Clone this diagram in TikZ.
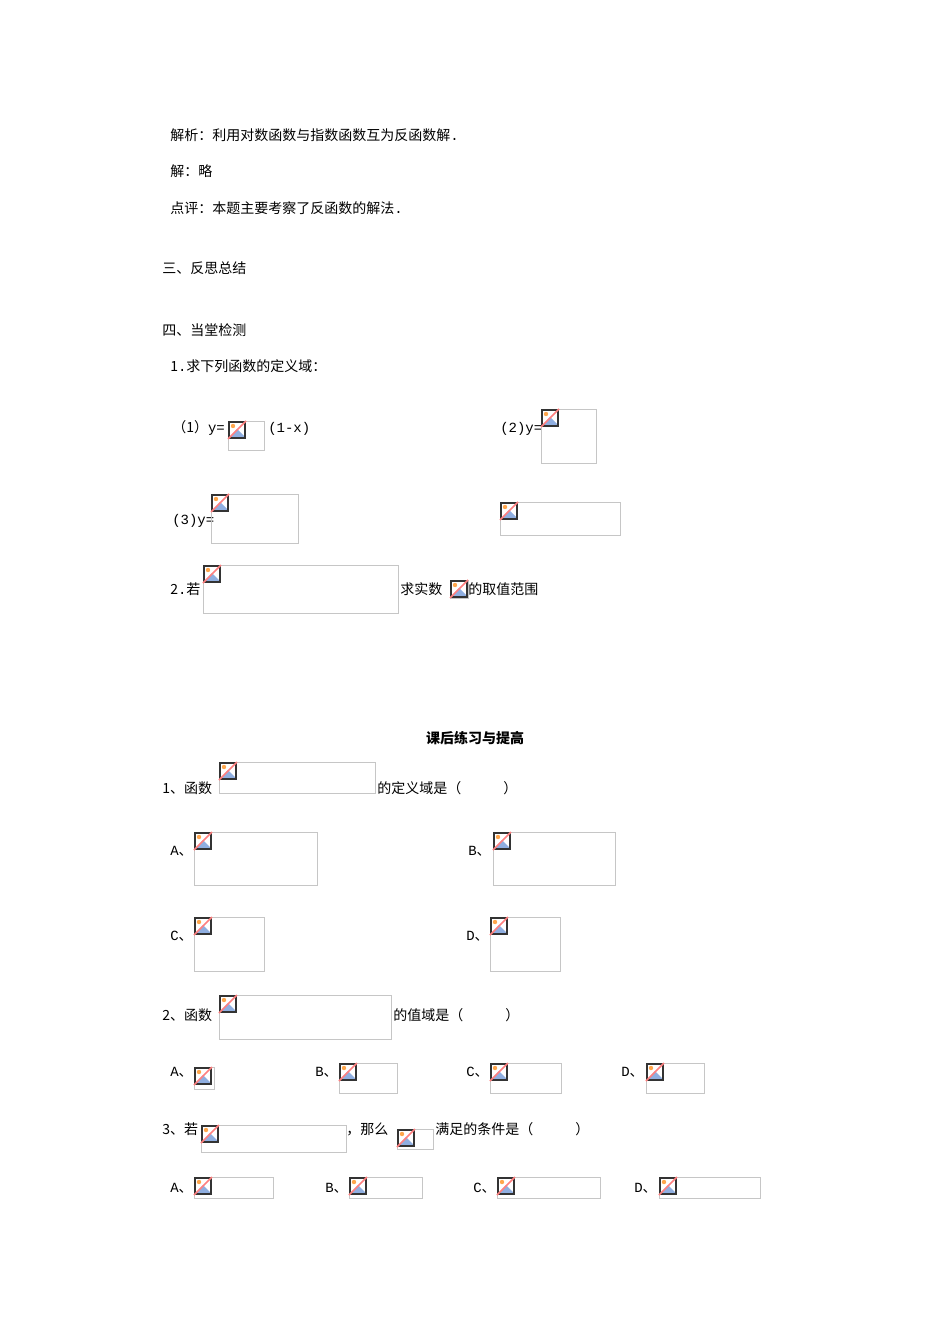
\documentclass[tikz,border=0pt]{standalone}
\usepackage{fontspec}
\setmainfont{Noto Sans CJK SC}
\newfontfamily\lat{Liberation Mono}
\tikzset{txt/.style={anchor=base west,inner sep=0pt,font=\fontsize{10.5pt}{12pt}\selectfont}}
\newcommand{\opt}[1]{{\lat #1}、}
\newcommand{\imgbox}[4]{% x y w h
  \draw[gray!45,line width=0.6pt] (#1,#2) rectangle ++(#3,#4);
  \begin{scope}[shift={(#1,#2)}]
    \fill[white] (0,0) rectangle (18,18);
    \fill[cyan!50!blue!45] (2,16) -- (9,8) -- (16,15) -- (16,16) -- cycle;
    \fill[orange!70] (5,5) circle (2.2);
    \draw[black!80,line width=0.9pt] (1,1) rectangle (17,17);
    \draw[red!50,line width=1.2pt] (0,18) -- (18,0);
  \end{scope}}
\begin{document}
\begin{tikzpicture}[x=0.75pt,y=-0.75pt]
\useasboundingbox[fill=white] (0,0) rectangle (950,1344);
\node[txt] (t1) at (170,141) {解析：利用对数函数与指数函数互为反函数解{\lat.}};
\node[txt] (t2) at (170,177) {解：略};
\node[txt] (t3) at (170,214) {点评：本题主要考察了反函数的解法{\lat.}};
\node[txt] (t4) at (162,274) {三、反思总结};
\node[txt] (t5) at (162,335) {四、当堂检测};
\node[txt] (t6) at (170,371) {1{\lat.}求下列函数的定义域：};
\node[txt] (a1) at (172,432) {（1）{\lat y=}};
\imgbox{228}{421}{36}{29}
\node[txt] (a2) at (268,432) {\lat(1-x)};
\node[txt] (a3) at (500,432) {\lat(2)y=};
\imgbox{541}{409}{55}{54}
\node[txt] (a4) at (172,524) {\lat(3)y=};
\imgbox{211}{494}{87}{49}
\imgbox{500}{502}{120}{33}
\node[txt] (b1) at (170,594) {2{\lat.}若};
\imgbox{203}{565}{195}{48}
\node[txt] (b2) at (400,594) {求实数};
\imgbox{450}{580}{18}{18}
\node[txt] (b3) at (468,594) {的取值范围};
\node[txt,anchor=base,font=\fontsize{10.5pt}{12pt}\selectfont\bfseries] (h) at (475,743) {课后练习与提高};
\node[txt] (c1) at (162,793) {1、函数};
\imgbox{219}{762}{156}{31}
\node[txt] (c2) at (377,793) {的定义域是（\hspace{3em}）};
\node[txt] at (170,855) {\opt{A}};\imgbox{194}{832}{123}{53}
\node[txt] at (468,855) {\opt{B}};\imgbox{493}{832}{122}{53}
\node[txt] at (170,940) {\opt{C}};\imgbox{194}{917}{70}{54}
\node[txt] at (466,940) {\opt{D}};\imgbox{490}{917}{70}{54}
\node[txt] (d1) at (162,1020) {2、函数};
\imgbox{219}{995}{172}{44}
\node[txt] (d2) at (393,1020) {的值域是（\hspace{3em}）};
\node[txt] at (170,1076) {\opt{A}};\imgbox{194}{1067}{20}{22}
\node[txt] at (315,1076) {\opt{B}};\imgbox{339}{1063}{58}{30}
\node[txt] at (466,1076) {\opt{C}};\imgbox{490}{1063}{71}{30}
\node[txt] at (621,1076) {\opt{D}};\imgbox{646}{1063}{58}{30}
\node[txt] (e1) at (162,1134) {3、若};
\imgbox{201}{1125}{145}{27}
\node[txt] (e2) at (346,1134) {，那么};
\imgbox{397}{1129}{36}{20}
\node[txt] (e3) at (435,1134) {满足的条件是（\hspace{3em}）};
\node[txt] at (170,1192) {\opt{A}};\imgbox{194}{1177}{79}{21}
\node[txt] at (325,1192) {\opt{B}};\imgbox{349}{1177}{73}{21}
\node[txt] at (473,1192) {\opt{C}};\imgbox{497}{1177}{103}{21}
\node[txt] at (634,1192) {\opt{D}};\imgbox{659}{1177}{101}{21}
\end{tikzpicture}
\end{document}
